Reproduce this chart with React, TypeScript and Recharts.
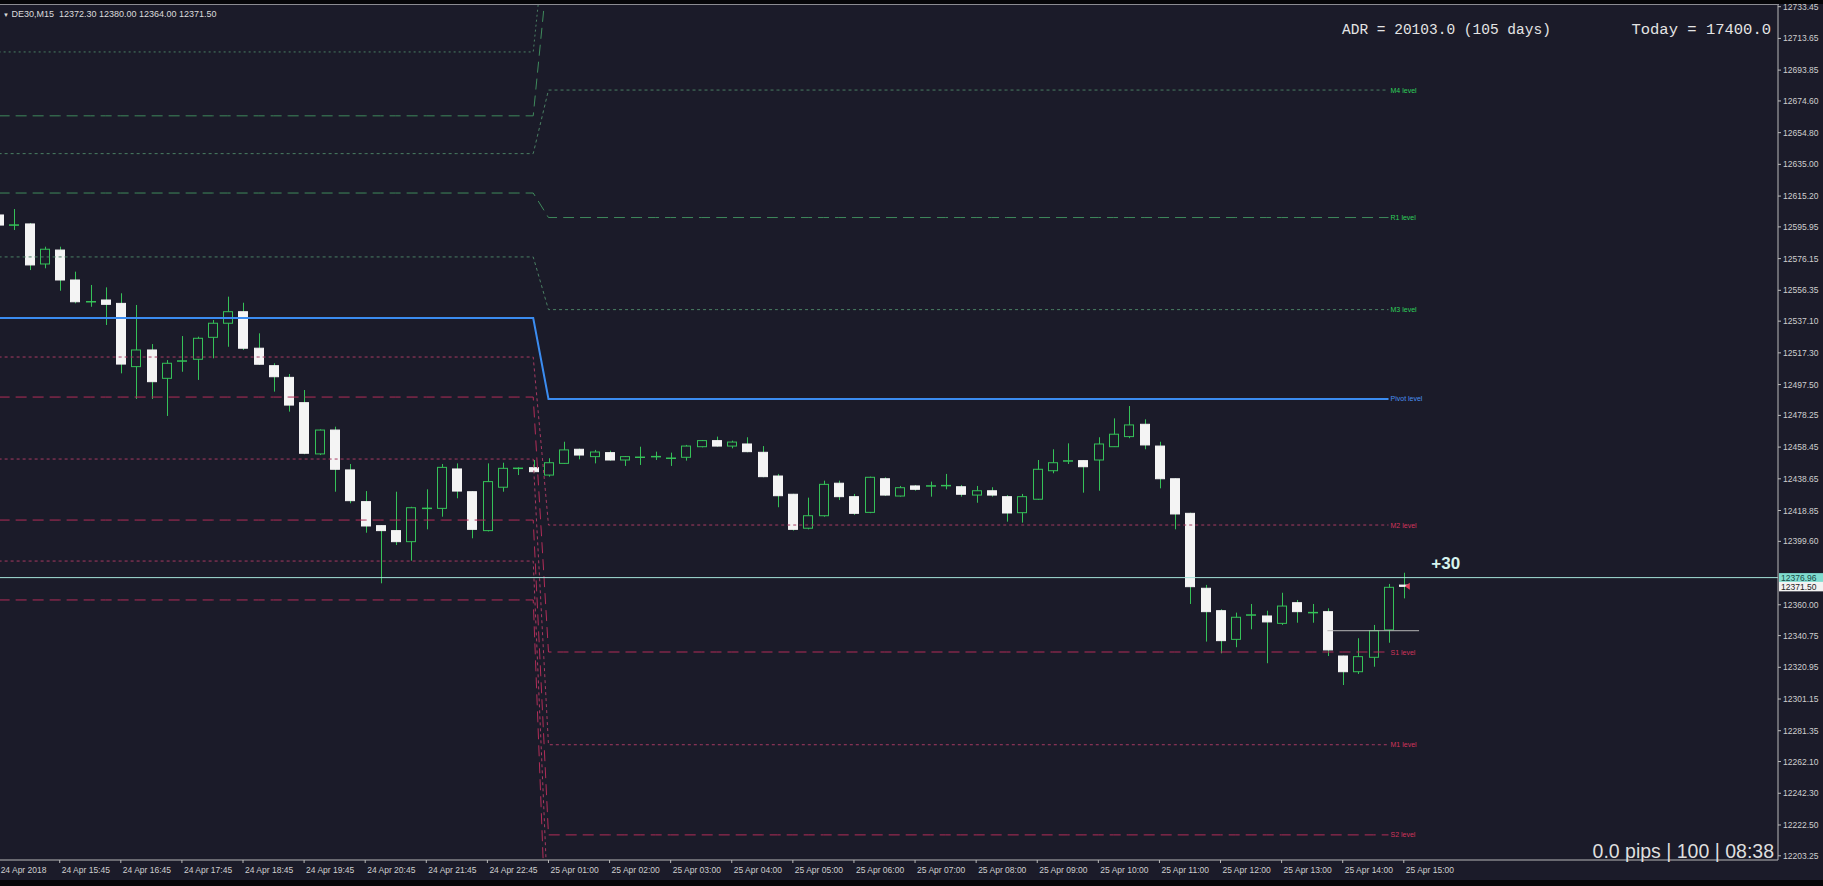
import React from 'react';
import { ComposedChart, Bar, Line, XAxis, YAxis, ReferenceLine, ReferenceDot } from 'recharts';

// DE30 M15, 24 Apr 14:45 -> 25 Apr 15:00
const barTimes = [
  '24 Apr 14:45', '24 Apr 15:00', '24 Apr 15:15', '24 Apr 15:30', '24 Apr 15:45', '24 Apr 16:00', '24 Apr 16:15', '24 Apr 16:30',
  '24 Apr 16:45', '24 Apr 17:00', '24 Apr 17:15', '24 Apr 17:30', '24 Apr 17:45', '24 Apr 18:00', '24 Apr 18:15', '24 Apr 18:30',
  '24 Apr 18:45', '24 Apr 19:00', '24 Apr 19:15', '24 Apr 19:30', '24 Apr 19:45', '24 Apr 20:00', '24 Apr 20:15', '24 Apr 20:30',
  '24 Apr 20:45', '24 Apr 21:00', '24 Apr 21:15', '24 Apr 21:30', '24 Apr 21:45', '24 Apr 22:00', '24 Apr 22:15', '24 Apr 22:30',
  '24 Apr 22:45', '24 Apr 23:00', '24 Apr 23:15', '24 Apr 23:30',
  '25 Apr 01:00', '25 Apr 01:15', '25 Apr 01:30', '25 Apr 01:45', '25 Apr 02:00', '25 Apr 02:15', '25 Apr 02:30', '25 Apr 02:45',
  '25 Apr 03:00', '25 Apr 03:15', '25 Apr 03:30', '25 Apr 03:45', '25 Apr 04:00', '25 Apr 04:15', '25 Apr 04:30', '25 Apr 04:45',
  '25 Apr 05:00', '25 Apr 05:15', '25 Apr 05:30', '25 Apr 05:45', '25 Apr 06:00', '25 Apr 06:15', '25 Apr 06:30', '25 Apr 06:45',
  '25 Apr 07:00', '25 Apr 07:15', '25 Apr 07:30', '25 Apr 07:45', '25 Apr 08:00', '25 Apr 08:15', '25 Apr 08:30', '25 Apr 08:45',
  '25 Apr 09:00', '25 Apr 09:15', '25 Apr 09:30', '25 Apr 09:45', '25 Apr 10:00', '25 Apr 10:15', '25 Apr 10:30', '25 Apr 10:45',
  '25 Apr 11:00', '25 Apr 11:15', '25 Apr 11:30', '25 Apr 11:45', '25 Apr 12:00', '25 Apr 12:15', '25 Apr 12:30', '25 Apr 12:45',
  '25 Apr 13:00', '25 Apr 13:15', '25 Apr 13:30', '25 Apr 13:45', '25 Apr 14:00', '25 Apr 14:15', '25 Apr 14:30', '25 Apr 14:45',
  '25 Apr 15:00',
];
const firstLabel = '24 Apr 2018';

const opens = [
  12603.4, 12597.1, 12597.8, 12572.8, 12581.5, 12562.8, 12549.2, 12550.3, 12548.2, 12508.7,
  12519.1, 12501.4, 12512.2, 12513.3, 12527.0, 12535.8, 12543.0, 12520.2, 12509.3, 12502.0,
  12486.2, 12454.2, 12469.1, 12444.2, 12424.4, 12409.4, 12406.3, 12399.4, 12420.2, 12420.2,
  12444.8, 12430.6, 12406.3, 12433.4, 12445.2, 12445.6, 12441.0, 12448.3, 12457.1, 12452.5,
  12455.0, 12450.4, 12452.1, 12452.5, 12451.5, 12452.1, 12458.7, 12462.5, 12459.1, 12460.4,
  12455.2, 12440.4, 12429.0, 12407.8, 12415.6, 12435.9, 12427.5, 12417.7, 12438.7, 12427.9,
  12434.2, 12434.2, 12434.4, 12433.7, 12428.5, 12431.2, 12427.5, 12417.5, 12425.9, 12443.7,
  12449.8, 12450.0, 12450.4, 12458.7, 12465.0, 12472.7, 12459.1, 12438.7, 12417.1, 12370.3,
  12356.3, 12338.4, 12353.6, 12353.0, 12348.4, 12361.3, 12355.1, 12355.7, 12328.0, 12318.2,
  12327.2, 12344.3, 12372.3,
];
const highs = [
  12607.8, 12607.1, 12598.4, 12583.6, 12583.6, 12568.0, 12559.7, 12558.2, 12554.5, 12547.2,
  12522.8, 12512.8, 12527.8, 12527.4, 12537.8, 12552.4, 12548.6, 12529.5, 12510.8, 12504.1,
  12494.1, 12469.5, 12471.2, 12447.9, 12431.0, 12409.8, 12430.6, 12421.2, 12432.1, 12447.9,
  12448.3, 12431.0, 12448.3, 12448.7, 12445.8, 12450.4, 12451.5, 12461.8, 12457.5, 12456.7,
  12456.2, 12452.9, 12458.7, 12455.6, 12455.0, 12459.8, 12462.9, 12465.0, 12462.5, 12464.6,
  12459.1, 12441.7, 12429.3, 12426.9, 12437.5, 12437.5, 12429.2, 12440.0, 12439.6, 12434.2,
  12434.8, 12436.9, 12441.7, 12434.8, 12434.2, 12433.4, 12428.5, 12429.2, 12450.4, 12457.1,
  12460.8, 12450.4, 12464.6, 12476.4, 12484.1, 12475.8, 12461.8, 12439.0, 12417.5, 12372.4,
  12357.2, 12355.1, 12360.5, 12356.3, 12367.5, 12363.0, 12360.5, 12357.8, 12328.3, 12339.1,
  12347.4, 12373.0, 12380.0,
];
const lows = [
  12595.3, 12594.0, 12569.0, 12570.1, 12556.1, 12548.2, 12546.1, 12534.7, 12504.5, 12488.5,
  12488.5, 12477.9, 12505.5, 12500.4, 12513.9, 12521.1, 12519.1, 12509.7, 12493.1, 12480.6,
  12454.0, 12453.5, 12430.6, 12423.4, 12405.0, 12373.4, 12397.3, 12387.5, 12407.1, 12415.0,
  12426.5, 12401.5, 12405.8, 12430.6, 12441.0, 12442.5, 12440.0, 12447.9, 12450.8, 12448.3,
  12450.0, 12446.7, 12447.3, 12450.4, 12446.7, 12450.0, 12458.3, 12458.7, 12457.7, 12455.2,
  12439.6, 12420.9, 12406.3, 12407.1, 12415.0, 12425.4, 12416.1, 12417.2, 12427.9, 12427.5,
  12431.2, 12427.5, 12432.1, 12427.5, 12423.7, 12427.5, 12411.9, 12411.3, 12425.5, 12442.1,
  12447.9, 12430.0, 12431.2, 12458.5, 12464.0, 12457.1, 12432.7, 12407.1, 12360.5, 12337.0,
  12329.7, 12333.5, 12344.7, 12323.5, 12347.4, 12348.8, 12348.8, 12328.0, 12309.9, 12316.8,
  12321.3, 12336.3, 12364.0,
];
const closes = [
  12597.1, 12597.1, 12572.2, 12582.0, 12562.8, 12549.2, 12549.2, 12547.6, 12510.3, 12519.1,
  12499.3, 12510.8, 12512.2, 12526.4, 12535.8, 12543.0, 12520.2, 12510.2, 12502.4, 12484.7,
  12454.6, 12469.1, 12444.6, 12425.0, 12409.2, 12406.3, 12399.4, 12420.6, 12420.2, 12445.8,
  12431.0, 12407.1, 12436.9, 12445.2, 12445.2, 12443.1, 12448.7, 12456.7, 12453.5, 12455.4,
  12450.4, 12452.5, 12452.1, 12452.5, 12451.5, 12459.1, 12462.5, 12459.1, 12461.6, 12455.6,
  12440.0, 12428.1, 12407.1, 12415.6, 12435.2, 12427.5, 12417.1, 12439.6, 12428.5, 12433.1,
  12432.1, 12434.2, 12434.4, 12429.0, 12431.2, 12428.5, 12417.3, 12427.5, 12444.6, 12448.7,
  12449.8, 12446.2, 12460.4, 12466.5, 12472.3, 12459.8, 12438.7, 12416.7, 12371.3, 12355.7,
  12337.6, 12352.2, 12353.6, 12349.3, 12359.2, 12355.7, 12355.1, 12331.8, 12318.2, 12327.6,
  12343.8, 12370.9, 12371.5,
];

// daily pivot levels (M = mid levels)
const levelNames = ['M5', 'R2', 'M4', 'R1', 'M3', 'P', 'M2', 'S1', 'M1', 'S2', 'M0', 'S3'];
const levelsApr24 = [12705.2, 12665.3, 12641.7, 12617.1, 12577.2, 12539.1, 12514.7, 12489.7, 12451.0, 12412.9, 12387.3, 12363.0];
const levelsApr25 = [12796.3, 12761.4, 12681.4, 12601.8, 12544.3, 12488.5, 12409.8, 12330.5, 12272.6, 12216.3, 12165.1, 12113.2];
const levelTags = ['M5 level', 'R2 level', 'M4 level', 'R1 level', 'M3 level', 'Pivot level', 'M2 level', 'S1 level', 'M1 level', 'S2 level', 'M0 level', 'S3 level'];

const priceTicks = [
  12733.45, 12713.65, 12693.85, 12674.6, 12654.8, 12635.0, 12615.2, 12595.95, 12576.15, 12556.35,
  12537.1, 12517.3, 12497.5, 12478.25, 12458.45, 12438.65, 12418.85, 12399.6, 12360.0, 12340.75,
  12320.95, 12301.15, 12281.35, 12262.1, 12242.3, 12222.5, 12203.25,
];

const targetLine = 12376.96;
const bidPrice = 12371.5;
const sessionOpen = 12343.8;
const targetText = '+30';

const BG = '#1b1b29';
const Y_MIN = 12200.63;
const Y_MAX = 12734.51;
const SLOTS = 117;
const GREEN = '#35c158';
const FONT = '"Liberation Sans", Arial, sans-serif';

const dayBreak = barTimes.findIndex((t) => t.startsWith('25 Apr'));
const levelEnd = opens.length - 2;

const cats = Array.from({ length: SLOTS }, (_, i) =>
  i === 0 ? firstLabel : i < barTimes.length ? barTimes[i] : `slot ${i}`,
);
const xTicks = cats.filter((_, i) => i % 4 === 0 && i < barTimes.length);

const rows = cats.map((t, i) => {
  const has = i < opens.length;
  const row: any = {
    t,
    o: has ? opens[i] : null,
    h: has ? highs[i] : null,
    l: has ? lows[i] : null,
    c: has ? closes[i] : null,
    hl: has ? [lows[i], highs[i]] : null,
  };
  levelNames.forEach((name, j) => {
    row[name] = i < dayBreak ? levelsApr24[j] : i <= levelEnd ? levelsApr25[j] : null;
  });
  return row;
});

const levelStyle = (name: string) => {
  if (name === 'P') return { stroke: '#3b8cf0', width: 2, dash: undefined, label: '#4a90f0' };
  const above = name.startsWith('R') || ['M3', 'M4', 'M5'].includes(name);
  const mid = name.startsWith('M');
  return {
    stroke: above ? (mid ? '#4a7f63' : '#3f8a5c') : mid ? '#a63a62' : '#b22d58',
    width: 1,
    dash: mid ? (name === 'M5' ? '2 3' : '3 3') : '11 6',
    label: above ? '#2fcf5a' : '#d1345c',
  };
};

const Candle = (props: any) => {
  const { x, y, width, height } = props;
  const d = props.payload;
  if (!d || d.o == null) return null;
  const top = Math.min(y, y + height);
  const bot = Math.max(y, y + height);
  const span = d.h - d.l;
  const k = span > 0 ? (bot - top) / span : 0;
  const py = (v: number) => top + (d.h - v) * k;
  const cx = Math.round(x + width / 2) + 0.5;
  const left = Math.round(x) + 0.5;
  const w = Math.round(width) - 1;
  const yo = py(d.o);
  const yc = py(d.c);
  if (d.c > d.o) {
    return (
      <g>
        <line x1={cx} x2={cx} y1={top} y2={bot} stroke={GREEN} />
        <rect x={left} y={yc} width={w} height={Math.max(yo - yc, 1)} fill={BG} stroke={GREEN} />
      </g>
    );
  }
  if (d.c < d.o) {
    return (
      <g>
        <line x1={cx} x2={cx} y1={top} y2={bot} stroke={GREEN} />
        <rect x={left} y={yo} width={w} height={Math.max(yc - yo, 1)} fill="#f4f4f4" stroke="#f4f4f4" />
      </g>
    );
  }
  return (
    <g>
      <line x1={cx} x2={cx} y1={top} y2={bot} stroke={GREEN} />
      <line x1={left - 0.5} x2={left + w + 0.5} y1={yo} y2={yo} stroke={GREEN} strokeWidth={1.5} />
    </g>
  );
};

const XTick = (p: any) => (
  <text x={p.x + 2} y={p.y} dy={8} fontSize={8.5} fill="#cfcfcf" fontFamily={FONT}>
    {p.payload.value}
  </text>
);

const YTick = (p: any) => (
  <text x={p.x} y={p.y} dy={3} fontSize={8.5} fill="#cfcfcf" fontFamily={FONT} textAnchor="start">
    {Number(p.payload.value).toFixed(2)}
  </text>
);

const priceBox = (text: string, fill: string, color: string) => (p: any) => {
  const vb = p.viewBox;
  const bx = vb.x + vb.width + 1;
  return (
    <g>
      <rect x={bx} y={vb.y - 4.5} width={44} height={9.5} fill={fill} />
      <text x={bx + 2} y={vb.y + 3.3} fontSize={8.5} fill={color} fontFamily={FONT}>{text}</text>
    </g>
  );
};

const levelLabel = (text: string, color: string) => (p: any) => {
  const vb = p.viewBox;
  return (
    <text x={vb.x + vb.width + 1} y={vb.y + vb.height / 2 + 2.5} fontSize={7} fill={color} fontFamily={FONT}>
      {text}
    </text>
  );
};

const targetLabel = (p: any) => {
  const vb = p.viewBox;
  return (
    <text x={vb.x - 2} y={vb.y + vb.height / 2 + 6} fontSize={17} fontWeight="bold" fill="#d6f3ee" fontFamily={FONT}>
      {targetText}
    </text>
  );
};

const BidArrow = (p: any) => (
  <path d={`M${p.cx + 1},${p.cy} L${p.cx + 6},${p.cy - 3.5} L${p.cx + 6},${p.cy + 3.5} Z`} fill="#e0405a" />
);

export default function App() {
  const visibleLevels = levelNames
    .map((name, j) => ({ name, j, v: levelsApr25[j] }))
    .filter((l) => l.v > Y_MIN && l.v < Y_MAX);

  return (
    <div style={{ position: 'relative', width: 1823, height: 886, background: BG, overflow: 'hidden' }}>
      <style>{`body{margin:0;background:${BG}}`}</style>
      <ComposedChart width={1823} height={886} data={rows} margin={{ top: 5, right: 0, bottom: 6, left: -9 }}>
        <XAxis
          dataKey="t"
          ticks={xTicks}
          interval={0}
          height={20}
          tickSize={3}
          tickMargin={2}
          tick={<XTick />}
          axisLine={{ stroke: '#b9b9b9' }}
          tickLine={{ stroke: '#b9b9b9' }}
        />
        <YAxis
          orientation="right"
          width={45}
          domain={[Y_MIN, Y_MAX]}
          allowDataOverflow
          ticks={priceTicks}
          interval={0}
          tickSize={3}
          tickMargin={2}
          tick={<YTick />}
          axisLine={{ stroke: '#b9b9b9' }}
          tickLine={{ stroke: '#b9b9b9' }}
        />
        <Bar dataKey="hl" barSize={10} shape={<Candle />} isAnimationActive={false} />
        {levelNames.map((name) => {
          const s = levelStyle(name);
          return (
            <Line
              key={name}
              dataKey={name}
              type="linear"
              stroke={s.stroke}
              strokeWidth={s.width}
              strokeDasharray={s.dash}
              dot={false}
              activeDot={false}
              isAnimationActive={false}
            />
          );
        })}
        <ReferenceLine y={targetLine} stroke="#a6e3da" strokeWidth={1} label={{ content: priceBox(targetLine.toFixed(2), '#7fdccf', '#164a44') }} />
        <ReferenceLine y={bidPrice} stroke="none" label={{ content: priceBox(bidPrice.toFixed(2), '#f2f2f2', '#222') }} />
        <ReferenceLine
          segment={[{ x: cats[opens.length - 6], y: sessionOpen }, { x: cats[opens.length], y: sessionOpen }]}
          stroke="#b5b5b5"
          strokeWidth={1}
        />
        {visibleLevels.map((l) => (
          <ReferenceDot
            key={l.name}
            x={cats[levelEnd]}
            y={l.v}
            r={1}
            fill="none"
            stroke="none"
            label={{ content: levelLabel(levelTags[l.j], levelStyle(l.name).label) }}
          />
        ))}
        <ReferenceDot x={cats[opens.length + 1]} y={12386} r={1} fill="none" stroke="none" label={{ content: targetLabel }} />
        <ReferenceDot x={cats[opens.length - 1]} y={bidPrice} r={1} shape={<BidArrow />} />
      </ComposedChart>

      <div style={{ position: 'absolute', left: 0, top: 0, width: 1823, height: 4, background: '#060609' }} />
      <div style={{ position: 'absolute', left: 0, top: 4, width: 1779, height: 1, background: '#8c8c92' }} />
      <div style={{ position: 'absolute', left: 0, top: 880, width: 1823, height: 6, background: '#060609' }} />

      <div style={{ position: 'absolute', left: 3, top: 10, fontFamily: FONT, fontSize: 9, lineHeight: '9px', color: '#dcdcdc', whiteSpace: 'pre' }}>
        <span style={{ fontSize: 6 }}>▼</span> DE30,M15  12372.30 12380.00 12364.00 12371.50
      </div>
      <div style={{ position: 'absolute', left: 1342, top: 23, fontFamily: '"Liberation Mono", monospace', fontSize: 14.5, lineHeight: '15px', color: '#e4e4e4', whiteSpace: 'pre' }}>
        ADR = 20103.0 (105 days)
      </div>
      <div style={{ position: 'absolute', right: 52, top: 23, fontFamily: '"Liberation Mono", monospace', fontSize: 15.5, lineHeight: '15px', color: '#e4e4e4', whiteSpace: 'pre' }}>
        Today = 17400.0
      </div>
      <div style={{ position: 'absolute', right: 49, top: 841, fontFamily: FONT, fontSize: 19.5, lineHeight: '20px', color: '#dedede', whiteSpace: 'pre' }}>
        0.0 pips | 100 | 08:38
      </div>
    </div>
  );
}
